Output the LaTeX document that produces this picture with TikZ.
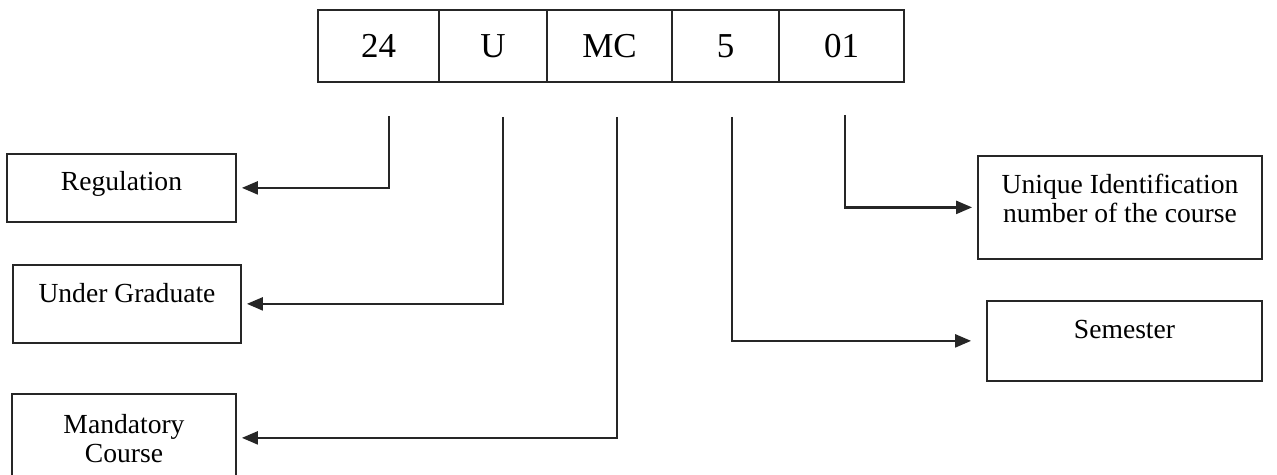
\documentclass[tikz,border=0pt]{standalone}
\usepackage{fontspec}
\setmainfont{Liberation Serif}
\usepackage{tikz}
\usetikzlibrary{arrows.meta, positioning}

\begin{document}
\begin{tikzpicture}[
  every node/.style={font=\fontsize{15.7}{16.5}\selectfont},
  cell/.style={draw=black!85, line width=1pt, minimum height=1.44cm, inner sep=0pt, outer sep=0pt, font=\fontsize{19.9}{22}\selectfont},
  infobox/.style={draw=black!85, line width=1pt, anchor=north, align=center, inner xsep=0pt, inner ysep=0pt, text height=0.76cm},
  link/.style={draw=black!85, line width=1.3pt, -{Triangle[length=0.32cm, width=0.26cm]}, shorten >=0.1cm}
]
\clip (0,0) rectangle (25.54,-9.5);

\node[cell, anchor=north west, minimum width=2.42cm] (c24) at (6.36,-0.2) {24};
\node[cell, minimum width=2.16cm, right=0pt of c24] (cU) {U};
\node[cell, minimum width=2.50cm, right=0pt of cU] (cMC) {MC};
\node[cell, minimum width=2.14cm, right=0pt of cMC] (c5) {5};
\node[cell, minimum width=2.50cm, right=0pt of c5] (c01) {01};

\coordinate (t24) at ([xshift=0.21cm, yshift=-0.68cm]c24.south);
\coordinate (tU) at ([xshift=0.20cm, yshift=-0.70cm]cU.south);
\coordinate (tMC) at ([xshift=0.15cm, yshift=-0.70cm]cMC.south);
\coordinate (t5) at ([xshift=0.13cm, yshift=-0.70cm]c5.south);
\coordinate (t01) at ([xshift=0.07cm, yshift=-0.66cm]c01.south);

\node[infobox, minimum width=4.58cm, text height=0.74cm, text depth=0.62cm] (reg) at (2.43,-3.06) {Regulation};
\node[infobox, minimum width=4.56cm, text depth=0.80cm] (ug) at (2.54,-5.28) {Under Graduate};
\node[infobox, minimum width=4.48cm, text height=1.38cm, text depth=0.38cm] (mand) at (2.48,-7.86) {Mandatory\\Course};
\node[infobox, minimum width=5.68cm, text height=1.34cm, text depth=0.72cm] (uid) at (22.40,-3.10) {Unique Identification\\number of the course};
\node[infobox, minimum width=5.50cm, text depth=0.84cm] (sem) at (22.49,-6.00) {Semester};

\draw[link] (t24) |- (reg);
\draw[link] (tU) |- (ug);
\draw[link] (tMC) |- (mand);
\draw[link] (t01) |- (uid);
\draw[link, shorten >=0.3cm] (t5) |- (sem);
\end{tikzpicture}
\end{document}
